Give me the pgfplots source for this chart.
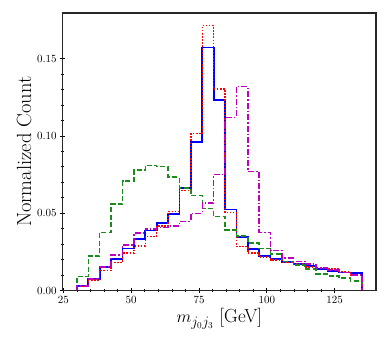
\documentclass[border=0pt]{standalone}
\usepackage{pgfplots}
\pgfplotsset{compat=1.18}
\usepackage{pgfplotstable}
\definecolor{mblue}{rgb}{0,0,1}
\definecolor{mred}{rgb}{1,0,0}
\definecolor{mgreen}{rgb}{0.1,0.55,0.1}
\definecolor{mmag}{rgb}{0.75,0,0.75}
\pgfplotstableread{
x     blue   red    green  mag
30    0      0      0      0
30    0.0030 0.0026 0.0091 0.0030
34.2  0.0075 0.0069 0.0222 0.0075
38.4  0.0151 0.0129 0.0375 0.0151
42.6  0.0203 0.0181 0.0558 0.0231
46.8  0.0272 0.0241 0.0707 0.0295
51.0  0.0332 0.0289 0.0778 0.0371
55.2  0.0388 0.0349 0.0810 0.0399
59.4  0.0435 0.0418 0.0802 0.0409
63.6  0.0496 0.0511 0.0733 0.0418
67.8  0.0662 0.0648 0.0662 0.0446
72.0  0.0962 0.1014 0.0613 0.0498
76.2  0.1571 0.1713 0.0529 0.0565
80.4  0.1233 0.1304 0.0477 0.0750
84.6  0.0524 0.0505 0.0392 0.1119
88.8  0.0345 0.0284 0.0353 0.1319
93.0  0.0267 0.0241 0.0306 0.0769
97.2  0.0224 0.0216 0.0272 0.0375
101.4 0.0203 0.0198 0.0237 0.0259
105.6 0.0183 0.0181 0.0188 0.0209
109.8 0.0170 0.0170 0.0166 0.0188
114.0 0.0159 0.0151 0.0138 0.0170
118.2 0.0138 0.0144 0.0108 0.0144
122.4 0.0127 0.0138 0.0095 0.0134
126.6 0.0116 0.0123 0.0080 0.0116
130.8 0.0112 0.0101 0.0063 0.0101
135   0.0112 0.0101 0.0063 0.0101
135   0      0      0      0
}\histdata
\begin{document}
\begin{tikzpicture}
\begin{axis}[
  name=ax,
  scale only axis,
  width=313.3pt, height=277.5pt,
  xmin=24.75, xmax=140.25,
  ymin=0, ymax=0.1795,
  axis line style={line width=1.5pt, black!85},
  xtick={25,50,75,100,125},
  ytick={0,0.05,0.10,0.15},
  minor x tick num=4,
  minor y tick num=4,
  xtick pos=bottom, ytick pos=left,
  tick align=center,
  major tick length=5pt, minor tick length=3pt,
  tick style={black, line width=0.7pt},
  tick label style={font=\fontsize{11}{13}\selectfont},
  yticklabel style={/pgf/number format/.cd, fixed, fixed zerofill, precision=2},
  xticklabel style={/pgf/number format/.cd, fixed},
  scaled y ticks=false,
  xlabel={$m_{j_0j_3}$ [GeV]},
  ylabel={Normalized Count},
  xlabel style={font=\fontsize{19}{23}\selectfont, yshift=2pt},
  ylabel style={font=\fontsize{20.5}{24}\selectfont, yshift=-1pt},
  clip=true,
]
\addplot[const plot, mblue, line width=1.7pt] table[x=x, y=blue] {\histdata};
\addplot[const plot, mred, line width=1.5pt, dash pattern=on 1.5pt off 1.6pt] table[x=x, y=red] {\histdata};
\addplot[const plot, mgreen, line width=1.5pt, dash pattern=on 5pt off 2.5pt] table[x=x, y=green] {\histdata};
\addplot[const plot, mmag, line width=1.5pt, dash pattern=on 6pt off 2pt on 1.5pt off 2pt] table[x=x, y=mag] {\histdata};
\end{axis}
\path ([xshift=-62.7pt,yshift=-55.5pt]ax.south west) rectangle ([xshift=13pt,yshift=13pt]ax.north east);
\end{tikzpicture}
\end{document}
